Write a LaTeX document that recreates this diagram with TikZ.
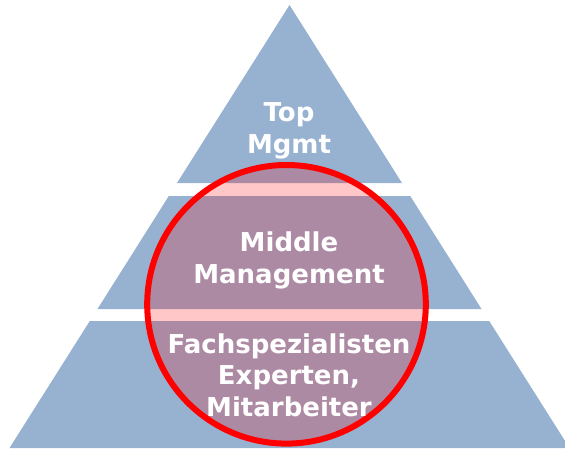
\documentclass[tikz,border=0pt]{standalone}
\usepackage{fontspec}
\setsansfont{DejaVu Sans}
\usetikzlibrary{calc, backgrounds}
\definecolor{layerblue}{RGB}{151,178,209}

\begin{document}
\begin{tikzpicture}[x=1pt, y=-1pt,
    layer/.style={fill=layerblue, draw=none},
    focusring/.style={draw=red, line width=6pt, fill=red, fill opacity=0.22, draw opacity=1},
    levelname/.style={text=white, font=\sffamily\bfseries\fontsize{26}{31.5}\selectfont,
      align=center, anchor=base, inner sep=0pt}
  ]
    \useasboundingbox (0,0) rectangle (565,448);
    % the three levels of the pyramid
    \coordinate (apex) at (289.5,5);
    \fill[layer] (apex) -- (402,183) -- (177,183) -- cycle;
    \fill[layer] (168.8,196) -- (410.2,196) -- (481.5,309) -- (97.5,309) -- cycle;
    \fill[layer] (89.8,321) -- (489.2,321) -- (569.5,448) -- (9.5,448) -- cycle;
    % circle round the middle
    \coordinate (focus) at (286.5,304.3);
    \path[focusring] (focus) circle (139.3);
    % base is the baseline of the last line
    \node[levelname] (top) at (289,153.3) {Top\\Mgmt};
    \node[levelname] (middle) at (289,283) {Middle\\Management};
    \node[levelname] (bottom) at (289,416) {Fachspezialisten\\Experten,\\Mitarbeiter};
\end{tikzpicture}
\end{document}
